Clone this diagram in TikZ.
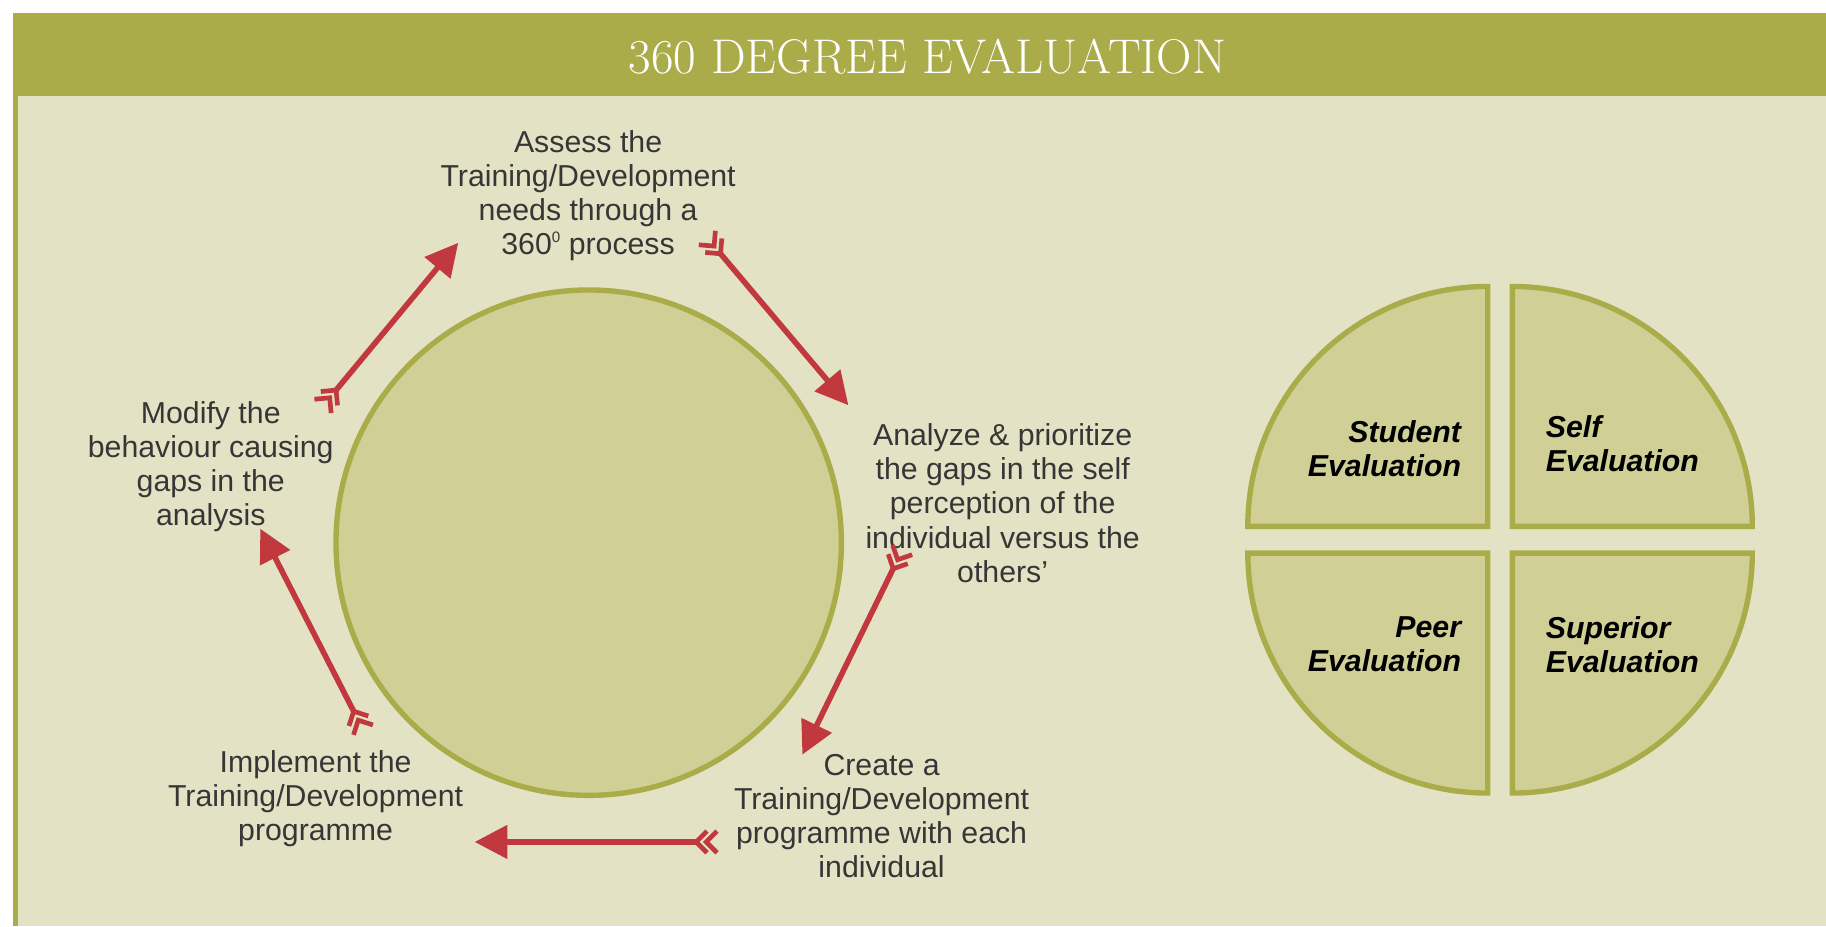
\documentclass[tikz,border=0pt]{standalone}
\usepackage{fontspec}
\setsansfont{Liberation Sans}
\usetikzlibrary{arrows.meta,calc}
\definecolor{barolive}{HTML}{AAAB49}
\definecolor{panelbeige}{HTML}{E3E2C5}
\definecolor{shapefill}{HTML}{D0CF96}
\definecolor{arrowred}{HTML}{C1393F}
\definecolor{textgray}{HTML}{363636}
\newcommand{\degsup}{\raisebox{5pt}{\fontsize{6.5}{6.5}\selectfont 0}}
\begin{document}
\begin{tikzpicture}[x=0.5pt,y=-0.5pt,
  bodytext/.style={font=\sffamily\fontsize{13}{14.65}\selectfont, text=textgray, align=center, inner sep=0pt},
  quadlabel/.style={font=\sffamily\bfseries\itshape\fontsize{13}{14.6}\selectfont, text=black, inner sep=0pt},
  quadshape/.style={fill=shapefill, draw=barolive, line width=2.3pt, line join=miter},
  flowarrow/.style={draw=arrowred, line width=2.4pt, -{Triangle[length=14pt,width=14pt]}},
  fletch/.style={draw=arrowred, line width=2pt, line join=miter, line cap=butt}
]
\useasboundingbox (0,0) rectangle (1568,795.2);
% background
\fill[white] (0,0) rectangle (1568,795.2);
\fill[barolive] (11.4,11.4) rectangle (1568,82.4);
\fill[panelbeige] (15.7,82.4) rectangle (1568,795.2);
\fill[barolive] (11.4,82.4) rectangle (15.7,795.2);
% title
\node[text=white, inner sep=0pt] (title) at (796.5,48.5)
  {\resizebox{256.4pt}{14.8pt}{\rmfamily\fontsize{40}{40}\selectfont 360 DEGREE EVALUATION}};
% central circle
\node[circle, fill=shapefill, draw=barolive, line width=2.3pt, minimum size=217pt, inner sep=0pt] (cyc) at (505.5,466) {};
% cycle texts
\node[bodytext] (assess) at (505,168) {Assess the\\Training/Development\\needs through a\\360\degsup\ process};
\node[bodytext] (analyze) at (861,432) {Analyze \& prioritize\\the gaps in the self\\perception of the\\individual versus the\\others’};
\node[bodytext] (create) at (757,701) {Create a\\Training/Development\\programme with each\\individual};
\node[bodytext] (implement) at (271,686) {Implement the\\Training/Development\\programme};
\node[bodytext] (modify) at (181,401) {Modify the\\behaviour causing\\gaps in the\\analysis};
% arrow end points (tail back end, head tip)
\coordinate (a1s) at (277,349);   \coordinate (a1e) at (393.5,208.5);
\coordinate (a2s) at (607,204);   \coordinate (a2e) at (728.5,348);
\coordinate (a3s) at (775,472);   \coordinate (a3e) at (689,648);
\coordinate (a4s) at (616,723);   \coordinate (a4e) at (407.6,723);
\coordinate (a5s) at (312,627);   \coordinate (a5e) at (223.5,454);
\foreach \i in {1,...,5}{
  \coordinate (a\i r) at ($(a\i s)!4.8pt!(a\i e)$);
  \coordinate (a\i f) at ($(a\i s)!9.1pt!(a\i e)$);
  \draw[fletch] ($(a\i r)!6.6pt!45:(a\i s)$) -- (a\i r) -- ($(a\i r)!6.6pt!-45:(a\i s)$);
  \draw[fletch] ($(a\i f)!6.6pt!45:(a\i s)$) -- (a\i f) -- ($(a\i f)!6.6pt!-45:(a\i s)$);
  \draw[flowarrow] (a\i f) -- (a\i e);
}
% pie quadrants
\coordinate (qtl) at (1277.5,452);
\coordinate (qtr) at (1298.7,452);
\coordinate (qbl) at (1277.5,475);
\coordinate (qbr) at (1298.7,475);
\path[quadshape] (qtl) -- ++(-206,0) arc[start angle=180,end angle=270,radius=206] -- cycle;
\path[quadshape] (qtr) -- ++(0,-206) arc[start angle=270,end angle=360,radius=206] -- cycle;
\path[quadshape] (qbl) -- ++(-206,0) arc[start angle=180,end angle=90,radius=206] -- cycle;
\path[quadshape] (qbr) -- ++(206,0) arc[start angle=0,end angle=90,radius=206] -- cycle;
% quadrant labels
\node[quadlabel, align=right, anchor=east] (student) at (1255,385) {Student\\Evaluation};
\node[quadlabel, align=left, anchor=west] (self) at (1327,381) {Self\\Evaluation};
\node[quadlabel, align=right, anchor=east] (peer) at (1255,553.5) {Peer\\Evaluation};
\node[quadlabel, align=left, anchor=west] (superior) at (1327,553.5) {Superior\\Evaluation};
\end{tikzpicture}
\end{document}
